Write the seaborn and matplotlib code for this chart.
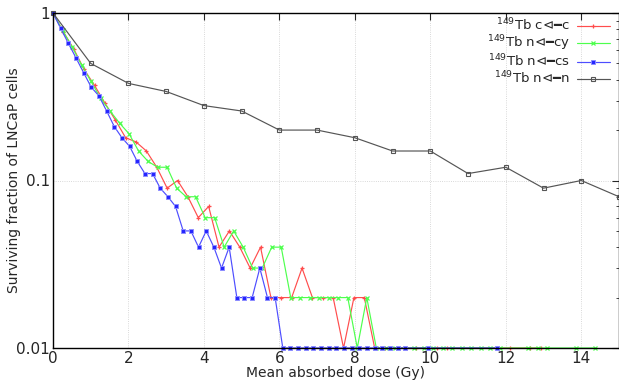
import numpy as np
import pandas as pd
import matplotlib
matplotlib.use("Agg")
import matplotlib.pyplot as plt
import seaborn as sns
from matplotlib.ticker import FixedLocator, FixedFormatter, LogLocator, NullFormatter

nan = np.nan

# dose spacing of each simulated series (Gy)
red_step = 0.275
green_step = 0.252
blue_step = 0.203

# surviving fractions (nan = zero survivors, not drawable on log axis)
red_cc = [1, .77, .61, .46, .37, .29, .23, .18, .17, .15, .12, .09, .10, .08, .06, .07,
          .04, .05, .04, .03, .04, .02, .02, .02, .03, .02, .02, .02, .01, .02, .02, .01,
          .01, nan, .01, .01, nan, .01, .01, nan, nan, nan, nan, nan, .01, nan, .01, .01,
          nan, nan, nan, nan, nan, nan, nan]
green_ncy = [1, .79, .63, .49, .39, .31, .26, .22, .19, .15, .13, .12, .12, .09, .08, .08,
             .06, .06, .04, .05, .04, .03, .03, .04, .04, .02, .02, .02, .02, .02, .02, .02,
             .01, .02, .01, .01, .01, nan, .01, .01, .01, .01, .01, .01, .01, .01, .01, .01,
             nan, nan, .01, .01, .01, nan, nan, .01, nan, .01, nan, nan]
blue_ncs = [1, .81, .66, .54, .44, .36, .32, .26, .21, .18, .16, .13, .11, .11, .09, .08,
            .07, .05, .05, .04, .05, .04, .03, .04, .02, .02, .02, .03, .02, .02,
            .01, .01, .01, .01, .01, .01, .01, .01, .01, .01, .01, .01, .01, .01, .01, .01, .01,
            nan, nan, .01, nan, nan, nan, nan, nan, nan, nan, nan, .01,
            nan, nan, nan, nan, nan, nan, nan, nan, nan, nan, nan, nan, nan, nan, nan]
black_dose = [0, 1, 2, 3, 4, 5, 6, 7, 8, 9, 10, 11, 12, 13, 14, 15]
black_nn = [1, .50, .38, .34, .28, .26, .20, .20, .18, .15, .15, .11, .12, .09, .10, .08]

arrow = "\u22b2\u2501"
labels = ["$^{149}$Tb c" + arrow + "c", "$^{149}$Tb n" + arrow + "cy",
          "$^{149}$Tb n" + arrow + "cs", "$^{149}$Tb n" + arrow + "n"]
xticks = [0, 2, 4, 6, 8, 10, 12, 14]
yticks = [0.01, 0.1, 1]
ytick_labels = ["0.01", "0.1", "1"]

sns.set_style("white")
plt.rcParams["font.family"] = ["DejaVu Sans", "Noto Sans"]

fig = plt.figure(figsize=(6.19, 3.83), dpi=100)
ax = fig.add_axes([53 / 619, 1 - 348 / 383, 1 - 53 / 619, (348 - 13) / 383])
ax.set_yscale("log")

red_c = (1, 0.3, 0.3)
green_c = (0.3, 1, 0.3)
blue_c = (0.3, 0.3, 1)
gray_c = "#555555"
series = [
    (np.arange(len(red_cc)) * red_step, red_cc, labels[0],
     dict(color=red_c, marker="+", markersize=3.5, mew=0.9, mec=red_c)),
    (np.arange(len(green_ncy)) * green_step, green_ncy, labels[1],
     dict(color=green_c, marker="x", markersize=3, mew=0.9, mec=green_c)),
    (np.arange(len(blue_ncs)) * blue_step, blue_ncs, labels[2],
     dict(color=blue_c, marker="s", markersize=2.4, mew=0.7, mec=(0.55, 0.55, 1), mfc=(0.15, 0.15, 1))),
    (np.array(black_dose, float), black_nn, labels[3],
     dict(color=gray_c, marker="s", markersize=3.5, mfc="none", mew=0.8, mec=gray_c)),
]

for x, y, lab, kw in series:
    df = pd.DataFrame({"dose": x, "sf": y})
    sns.lineplot(data=df, x="dose", y="sf", ax=ax, label=lab, linewidth=0.85,
                 estimator=None, sort=False, clip_on=False, **kw)

ax.set_xlim(0, 15)
ax.set_ylim(0.01, 1)
ax.xaxis.set_major_locator(FixedLocator(xticks))
ax.yaxis.set_major_locator(FixedLocator(yticks))
ax.yaxis.set_major_formatter(FixedFormatter(ytick_labels))
ax.yaxis.set_minor_locator(LogLocator(base=10, subs=np.arange(2, 10)))
ax.yaxis.set_minor_formatter(NullFormatter())
ax.tick_params(which="both", direction="in", top=True, right=True, labelsize=11, pad=2)
ax.tick_params(which="major", length=5, width=0.8)
ax.tick_params(which="minor", length=2.5, width=0.6)
ax.grid(True, which="major", color="#cccccc", linestyle=":", linewidth=0.6)
for s in ax.spines.values():
    s.set_color("black")
    s.set_linewidth(1.0)

ax.set_xlabel("Mean absorbed dose (Gy)", fontsize=10, labelpad=0)
ax.set_ylabel("Surviving fraction of LNCaP cells", fontsize=10, labelpad=-3)

leg = ax.legend(loc="upper right", bbox_to_anchor=(0.995, 1.008), frameon=False,
                markerfirst=False, fontsize=9.5, handlelength=2.5, handletextpad=0.5,
                labelspacing=0.0, borderaxespad=0.1)

fig.savefig("out.png", dpi=100)
